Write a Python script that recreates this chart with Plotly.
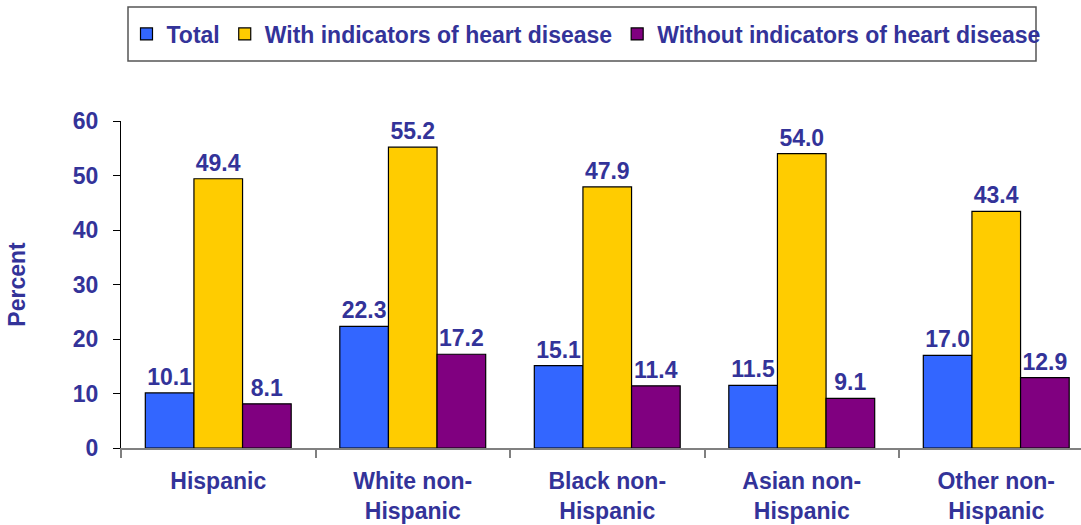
import plotly.graph_objects as go

categories = ["Hispanic", "White non-<br>Hispanic", "Black non-<br>Hispanic",
              "Asian non-<br>Hispanic", "Other non-<br>Hispanic"]
series_names = ["Total", "With indicators of heart disease", "Without indicators of heart disease"]
total = [10.1, 22.3, 15.1, 11.5, 17.0]
with_ind = [49.4, 55.2, 47.9, 54.0, 43.4]
without_ind = [8.1, 17.2, 11.4, 9.1, 12.9]
colors = ["#3366FF", "#FFCC00", "#800080"]

TXT = "#333399"
FONT = "Liberation Sans, Arial, sans-serif"

W, H = 1081, 525
L, T, B = 121, 121, 77
PW, PH = W - L, H - T - B

fig = go.Figure()
for name, vals, col in zip(series_names, [total, with_ind, without_ind], colors):
    fig.add_trace(go.Bar(
        x=categories, y=vals, name=name,
        marker=dict(color=col, line=dict(color="#000000", width=1.2)),
        text=[f"{v:.1f}" for v in vals], textposition="outside",
        textfont=dict(family=FONT, size=23, color=TXT, weight="bold"),
        cliponaxis=False,
    ))

def px2x(px):
    return (px - L) / PW

def py2y(py):
    return (H - B - py) / PH

fig.add_shape(type="rect", xref="paper", yref="paper",
              x0=px2x(128), x1=px2x(1036), y0=py2y(61), y1=py2y(7),
              line=dict(color="#555555", width=1.5), fillcolor="rgba(0,0,0,0)", layer="above")

fig.update_layout(
    width=W, height=H,
    margin=dict(l=L, r=0, t=T, b=B, autoexpand=False),
    paper_bgcolor="white", plot_bgcolor="white",
    barmode="group", bargap=0.25, bargroupgap=0,
    font=dict(family=FONT, color=TXT, size=23, weight="bold"),
    showlegend=True,
    legend=dict(
        orientation="h", xref="container", yref="container",
        x=586/1081, xanchor="center", y=1-34/525, yanchor="middle",
        borderwidth=0, bgcolor="rgba(0,0,0,0)",
        font=dict(family=FONT, size=23, color=TXT, weight="bold"),
        traceorder="normal",
    ),
)
fig.update_xaxes(
    range=[-0.5, -0.5 + 960/194.5], automargin=False,
    showline=True, linecolor="#808080", linewidth=1.5,
    ticks="outside", tickson="boundaries", ticklen=8, tickcolor="#808080", tickwidth=1.5,
    tickfont=dict(family=FONT, size=23, color=TXT, weight="bold"),
    ticklabelstandoff=12,
    showgrid=False, zeroline=False,
)
fig.update_yaxes(
    range=[0, 60], dtick=10, automargin=False,
    showline=True, linecolor="#000000", linewidth=1.2,
    ticks="outside", ticklen=7, tickcolor="#000000", tickwidth=1.2,
    tickfont=dict(family=FONT, size=23, color=TXT, weight="bold"),
    ticklabelstandoff=10,
    showgrid=False, zeroline=False,
    title=dict(text="Percent", font=dict(family=FONT, size=23, color=TXT, weight="bold"), standoff=40),
)
fig.write_html("out.html", config={"displayModeBar": False},
               post_script="document.body.style.margin='0px';document.body.style.overflow='hidden';")
